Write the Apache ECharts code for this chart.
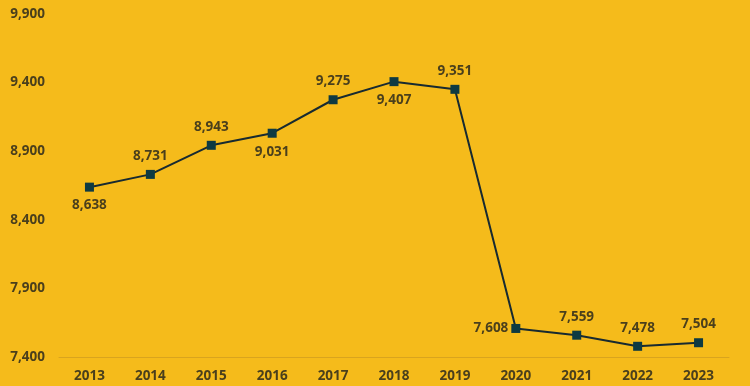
<!DOCTYPE html>
<html><head><meta charset="utf-8">
<script src="https://cdn.jsdelivr.net/npm/echarts@6/dist/echarts.min.js"></script>
<style>html,body{margin:0;padding:0;background:#F5BB1B}#c{width:750px;height:386px}</style>
</head><body><div id="c"></div>
<script>
const years = ['2013','2014','2015','2016','2017','2018','2019','2020','2021','2022','2023'];
const values = [8638, 8731, 8943, 9031, 9275, 9407, 9351, 7608, 7559, 7478, 7504];
const yTicks = [7400, 7900, 8400, 8900, 9400, 9900];

const placement = ['bottom','top','top','bottom','top','bottom','top','left','top','top','top'];
const textColor = '#4A3F1C';
const FONT = 'Open Sans';
const chart = echarts.init(document.getElementById('c'));
chart.setOption({
  backgroundColor: '#F5BB1B',
  animation: false,
  grid: { left: 59, right: 21, top: 14, bottom: 29 },
  xAxis: {
    type: 'category', data: years, boundaryGap: true,
    axisLine: { lineStyle: { color: '#D9A41E', width: 1 } },
    axisTick: { show: false },
    axisLabel: { color: textColor, fontFamily: FONT, fontWeight: 'bold', fontSize: 13.5, margin: 12 }
  },
  yAxis: {
    type: 'value', min: yTicks[0], max: yTicks[yTicks.length-1], interval: 500,
    splitLine: { show: false }, axisLine: { show: false }, axisTick: { show: false },
    axisLabel: { color: textColor, fontFamily: FONT, fontWeight: 'bold', fontSize: 13.5, margin: 14,
      formatter: v => v.toLocaleString('en-US') }
  },
  series: [{
    type: 'line',
    data: values.map((v, i) => ({ value: v, label: { position: placement[i], distance: placement[i] === 'left' ? 3 : 7 } })),
    symbol: 'rect', symbolSize: 9,
    lineStyle: { color: '#182A30', width: 2 },
    itemStyle: { color: '#0E3A42' },
    label: { show: true, color: textColor, fontFamily: FONT, fontWeight: 'bold', fontSize: 13.5,
      formatter: p => p.value.toLocaleString('en-US') }
  }]
});
</script></body></html>
